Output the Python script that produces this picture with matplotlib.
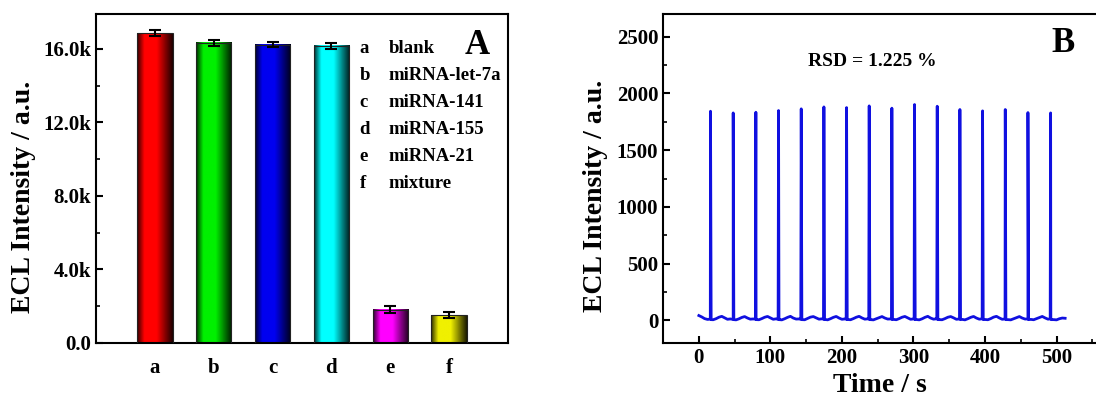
import numpy as np
import matplotlib
matplotlib.use('Agg')
from matplotlib import pyplot as plt
from matplotlib.colors import LinearSegmentedColormap, to_rgb
from matplotlib.ticker import MultipleLocator

# panel A data
labels = ['a', 'b', 'c', 'd', 'e', 'f']
names = ['blank', 'miRNA-let-7a', 'miRNA-141', 'miRNA-155', 'miRNA-21', 'mixture']
values = [16850, 16330, 16240, 16160, 1820, 1520]
errors = [170, 180, 150, 170, 170, 160]
colors = ['#ff0000', '#00f000', '#0000f0', '#00ffff', '#ff00ff', '#f0f000']

# panel B data: peak times / heights and baseline samples (every 4 s)
peak_t = [16.3, 48.0, 79.7, 111.4, 143.1, 174.8, 206.5, 238.1,
          269.8, 301.5, 333.2, 364.9, 396.6, 428.3, 460.0, 491.7]
peak_h = [1843, 1828, 1834, 1849, 1864, 1881, 1875, 1890,
          1870, 1902, 1887, 1858, 1846, 1858, 1831, 1828]
base_v = [42, 30, 15, 8, 10, 5, 14, 27, 35, 22, 9, 12,
          8, 4, 13, 25, 33, 20, 10, 12, 9,
          5, 15, 27, 34, 21, 9, 13,
          6, 4, 14, 26, 35, 20, 11, 12,
          7, 5, 16, 28, 33, 22, 10, 13, 8,
          4, 14, 26, 34, 20, 9, 12,
          7, 5, 15, 27, 35, 21, 10, 13,
          6, 4, 14, 25, 33, 20, 11, 12, 8,
          5, 15, 27, 34, 21, 9, 12,
          7, 4, 13, 26, 35, 20, 10, 13,
          6, 5, 15, 27, 33, 22, 9, 12, 8,
          4, 14, 26, 34, 20, 10, 13,
          7, 5, 15, 28, 35, 21, 9, 12,
          6, 4, 14, 25, 33, 20, 11, 12, 8,
          5, 15, 26, 34, 21, 10, 13,
          6, 4, 14, 20, 18]
base_t = np.arange(len(base_v)) * 4.0

plt.rcParams['font.family'] = 'Liberation Serif'
plt.rcParams['font.weight'] = 'bold'
plt.rcParams['axes.labelweight'] = 'bold'

fig = plt.figure(figsize=(10.96, 4.0), dpi=100)
axA = fig.add_axes([0.0876, 0.1425, 0.3759, 0.8225])
axB = fig.add_axes([0.605, 0.1425, 0.4047, 0.8225])

for ax in (axA, axB):
    for s in ax.spines.values():
        s.set_linewidth(1.5)
    ax.tick_params(direction='in', width=1.5, length=5, labelsize=15)
    ax.tick_params(which='minor', direction='in', width=1.2, length=3)
axB.spines['right'].set_visible(False)

# ---- panel A
x = np.arange(len(values))
bars = axA.bar(x, values, width=0.6, color='none', edgecolor='#222222',
               linewidth=0.8, zorder=3)
for bar, col in zip(bars, colors):
    c = np.array(to_rgb(col))
    cmap = LinearSegmentedColormap.from_list(
        'g', [(0, c * 0.2), (0.2, c), (0.55, c), (1, c * 0.12)])
    x0 = bar.get_x()
    axA.imshow(np.linspace(0, 1, 64).reshape(1, -1), cmap=cmap, aspect='auto',
               extent=[x0, x0 + bar.get_width(), 0, bar.get_height()], zorder=2)
axA.errorbar(x, values, yerr=errors, fmt='none', ecolor='black', elinewidth=1.5,
             capsize=4, capthick=1.5, zorder=4)
axA.set_xlim(-1, 6)
axA.set_ylim(0, 17900)
axA.set_xticks(x)
axA.set_xticklabels(labels)
axA.tick_params(axis='x', length=0, pad=11)
axA.yaxis.set_minor_locator(MultipleLocator(2000))
axA.set_yticks([0, 4000, 8000, 12000, 16000])
axA.set_yticklabels(['0.0', '4.0k', '8.0k', '12.0k', '16.0k'])
axA.set_ylabel('ECL Intensity / a.u.', fontsize=20, va='center')
axA.yaxis.set_label_coords(-0.175, 0.444)
for i, (lab, nm) in enumerate(zip(labels, names)):
    yy = 0.895 - i * 0.082
    axA.text(0.64, yy, lab, transform=axA.transAxes, fontsize=13.5, va='center')
    axA.text(0.71, yy, nm, transform=axA.transAxes, fontsize=13.5, va='center')
axA.text(0.925, 0.905, 'A', transform=axA.transAxes, fontsize=25, ha='center', va='center')

# ---- panel B
t_all = list(base_t)
v_all = list(base_v)
for tp, h in zip(peak_t, peak_h):
    t_all += [tp - 0.6, tp, tp + 0.9]
    v_all += [np.interp(tp - 0.6, base_t, base_v), h, 6]
order = np.argsort(t_all)
t_all = np.array(t_all)[order]
v_all = np.array(v_all)[order]
axB.plot(t_all, v_all, color='#1010e0', lw=2.0)
axB.set_xlim(-50, 570)
axB.set_ylim(-200, 2700)
axB.xaxis.set_major_locator(MultipleLocator(100))
axB.xaxis.set_minor_locator(MultipleLocator(50))
axB.yaxis.set_major_locator(MultipleLocator(500))
axB.yaxis.set_minor_locator(MultipleLocator(250))
axB.set_ylabel('ECL Intensity / a.u.', fontsize=20, va='center')
axB.yaxis.set_label_coords(-0.153, 0.447)
axB.set_xlabel('Time / s', fontsize=20)
axB.xaxis.set_label_coords(0.489, -0.09)
axB.text(0.471, 0.855, 'RSD = 1.225 %', transform=axB.transAxes, fontsize=14,
         ha='center', va='center')
axB.text(0.902, 0.91, 'B', transform=axB.transAxes, fontsize=25, ha='center', va='center')

fig.savefig('out.png', dpi=100)
